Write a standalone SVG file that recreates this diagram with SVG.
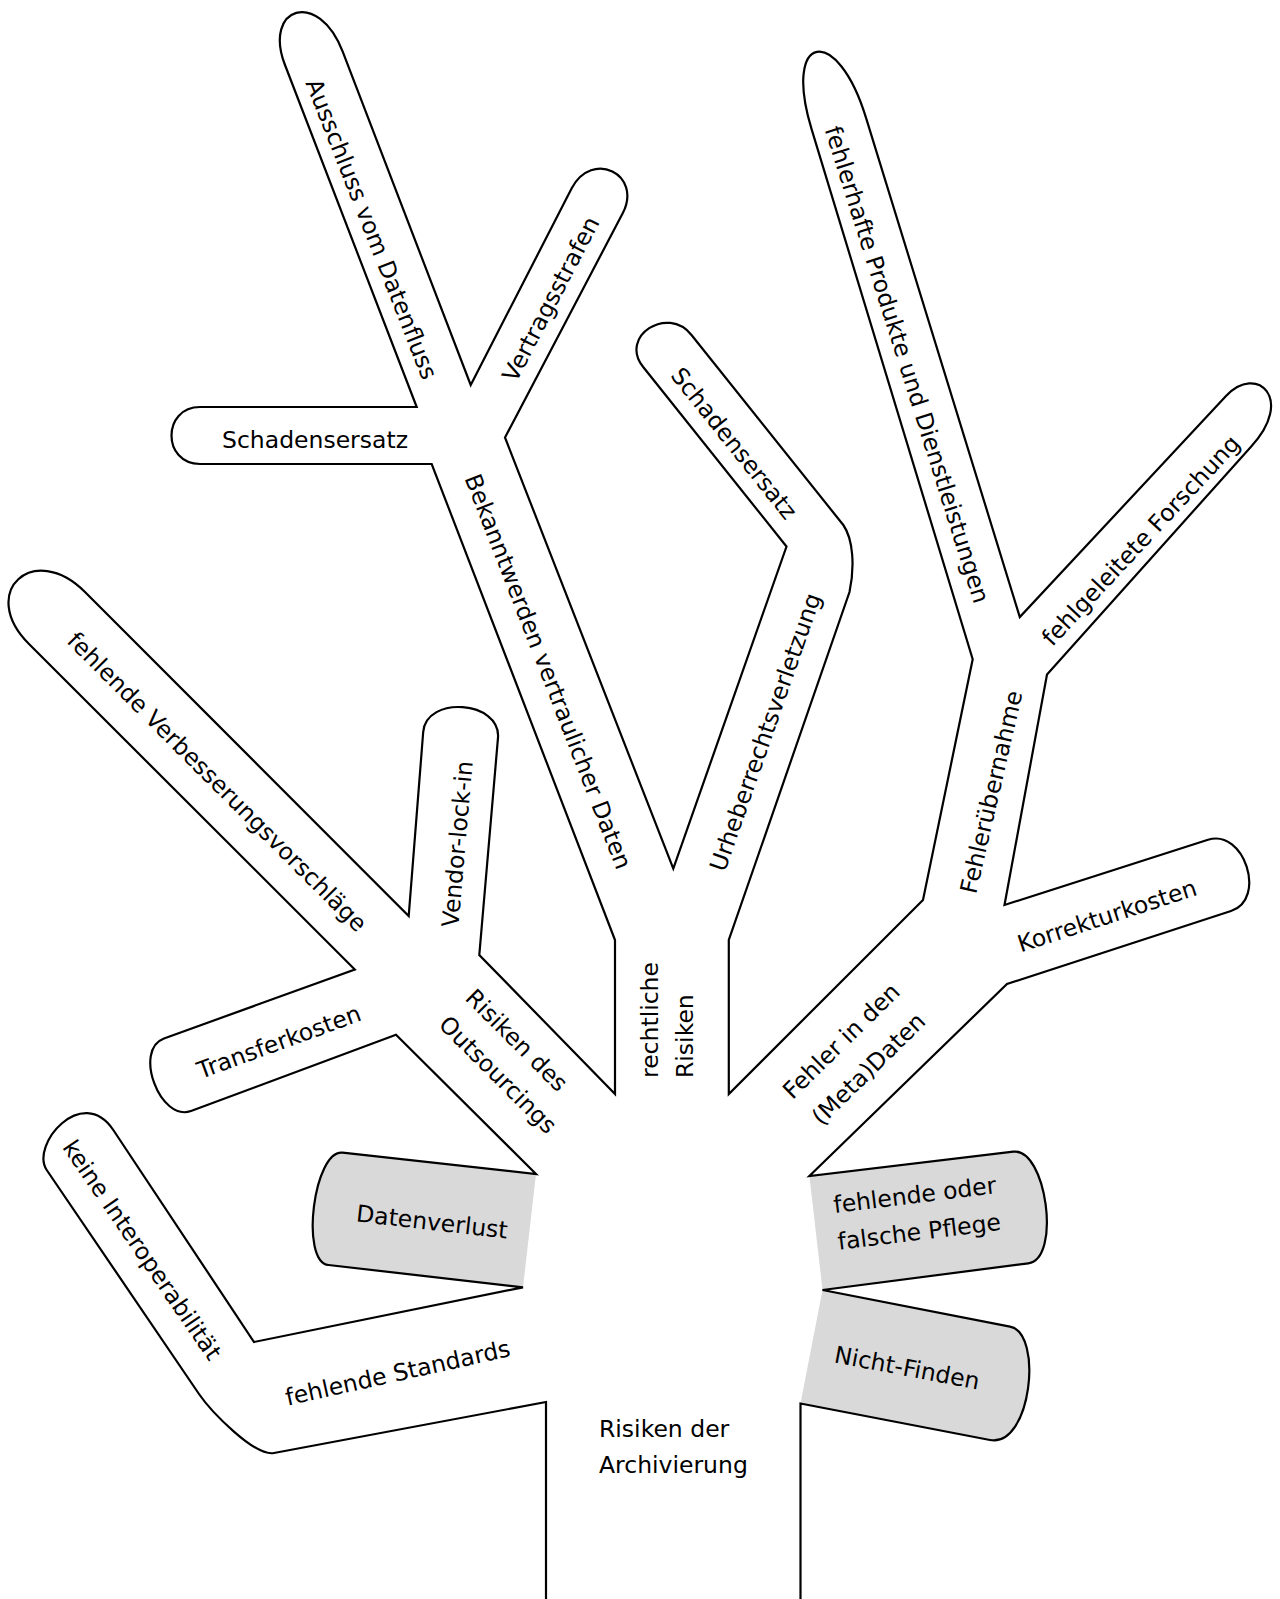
<svg xmlns="http://www.w3.org/2000/svg" width="1280" height="1599" viewBox="0 0 1280 1599">
<style>
.outline{fill:none;stroke:#000;stroke-width:2.2;stroke-linejoin:miter}
.leaf{fill:#d9d9d9;stroke:none}
text{font-family:"DejaVu Sans","Verdana",sans-serif;font-size:23.5px;fill:#000;dominant-baseline:central;text-anchor:middle}
.st{text-anchor:start}
</style>
<rect width="1280" height="1599" fill="#fff"/>
<g id="leaves">
<path id="leaf-datenverlust" class="leaf" d="M536,1174 L342.6,1152.7 C313.8,1149.5 299.7,1261.8 328.5,1265 L523,1287.3 Z"/>
<path id="leaf-pflege" class="leaf" d="M809.4,1176 L1013.3,1151.7 C1046.4,1147.65 1061.4,1259.25 1028.3,1263.3 L822.5,1290 Z"/>
<path id="leaf-nichtfinden" class="leaf" d="M822.5,1290 L1010,1326.7 C1043.4,1332.8 1031.3,1447.6 990,1440 L800.5,1403.5 Z"/>
</g>
<g id="connectors">
<path class="outline" d="M546,1599 L546,1402 L274,1453 C254.3,1456.7 210.3,1410.5 199,1394 L46.7,1170 C30,1145.1 82.1,1083.5 113.3,1130 L254,1342 L523,1287.3 L328.5,1265 C299.7,1261.8 313.8,1149.5 342.6,1152.7 L536,1174 L396,1034.7 L191,1111 C160,1122.3 133,1049.8 164,1038.5 L354.8,969.5 L29,644 C-22.6,592.4 33.4,540.4 85,592 L408.7,916 L423.2,732 C426.1,695.1 500.9,700.8 498,737.7 L479.3,955 L615,1094 L615,940 L431.7,464 L200,464 C162,464 162,407 200,407 L416.7,407 L285,65 C262.7,7.2 318.2,-11.7 342.7,51.7 L470.7,385 L571.7,188.3 C591.9,149.2 642.9,174.2 622.7,213.3 L505,437.5 L673.3,868.7 L786.5,546.5 L643,366.7 C618.9,336.5 667.4,304.8 691.5,335 L843.3,525 C853,539 855,566 849.5,592 L728.8,940 L728.8,1094 L923,900 L972.7,659.2 L811.5,128.9 C782.4,33.2 837.1,22.7 866.2,118.4 L1019.8,617.1 L1226,396 C1256.7,363.1 1295.3,399.2 1251,446.7 L1047,674.5 L1004.5,905 L1208,839.8 C1244.2,828.2 1267.2,899.4 1231,911 L1007,984 L809.4,1176 L1013.3,1151.7 C1046.4,1147.65 1061.4,1259.25 1028.3,1263.3 L822.5,1290 L1010,1326.7 C1043.4,1332.8 1031.3,1447.6 990,1440 L800.5,1403.5 L800.5,1599"/>
</g>
<g id="n-archivierung"><text class="st" x="599" y="1429">Risiken der</text><text class="st" x="599" y="1465">Archivierung</text></g>
<g id="n-standards"><text transform="translate(397.7,1373) rotate(-12.5)">fehlende Standards</text></g>
<g id="n-interop"><text transform="translate(142,1250) rotate(55.5)">keine Interoperabilität</text></g>
<g id="n-datenverlust"><text transform="translate(432,1222) rotate(6.5)">Datenverlust</text></g>
<g id="n-outsourcing"><text transform="translate(516.6,1040.4) rotate(45)">Risiken des</text><text transform="translate(497.9,1074.9) rotate(45)">Outsourcings</text></g>
<g id="n-transfer"><text transform="translate(279,1042) rotate(-20)">Transferkosten</text></g>
<g id="n-verbesserung"><text transform="translate(217,782) rotate(45)">fehlende Verbesserungsvorschläge</text></g>
<g id="n-vendor"><text transform="translate(457.5,844) rotate(-85)">Vendor-lock-in</text></g>
<g id="n-rechtlich"><text class="st" transform="translate(650,1078) rotate(-90)">rechtliche</text><text class="st" transform="translate(685,1078) rotate(-90)">Risiken</text></g>
<g id="n-bekannt"><text transform="translate(548,671.5) rotate(68.8)">Bekanntwerden vertraulicher Daten</text></g>
<g id="n-schaden1"><text x="315" y="440">Schadensersatz</text></g>
<g id="n-ausschluss"><text transform="translate(371.5,229) rotate(68.5)">Ausschluss vom Datenfluss</text></g>
<g id="n-vertrag"><text transform="translate(551,299) rotate(-62.5)">Vertragsstrafen</text></g>
<g id="n-schaden2"><text transform="translate(734,443.5) rotate(51.4)">Schadensersatz</text></g>
<g id="n-urheber"><text transform="translate(765.5,732) rotate(-70.7)">Urheberrechtsverletzung</text></g>
<g id="n-fehlerhaft"><text transform="translate(907,364.6) rotate(72.5)">fehlerhafte Produkte und Dienstleistungen</text></g>
<g id="n-forschung"><text transform="translate(1141,540.5) rotate(-47)">fehlgeleitete Forschung</text></g>
<g id="n-uebernahme"><text transform="translate(991.5,792) rotate(-77)">Fehlerübernahme</text></g>
<g id="n-korrektur"><text transform="translate(1107,916) rotate(-18)">Korrekturkosten</text></g>
<g id="n-metadaten"><text transform="translate(855,1055) rotate(-44.5)"><tspan x="0" y="-19.5">Fehler in den</tspan><tspan x="0" y="19.5">(Meta)Daten</tspan></text></g>
<g id="n-pflege"><text transform="translate(917,1213.5) rotate(-7)"><tspan x="0" y="-18.5">fehlende oder</tspan><tspan x="0" y="18.5">falsche Pflege</tspan></text></g>
<g id="n-nichtfinden"><text transform="translate(907,1368) rotate(10.7)">Nicht-Finden</text></g>
</svg>
